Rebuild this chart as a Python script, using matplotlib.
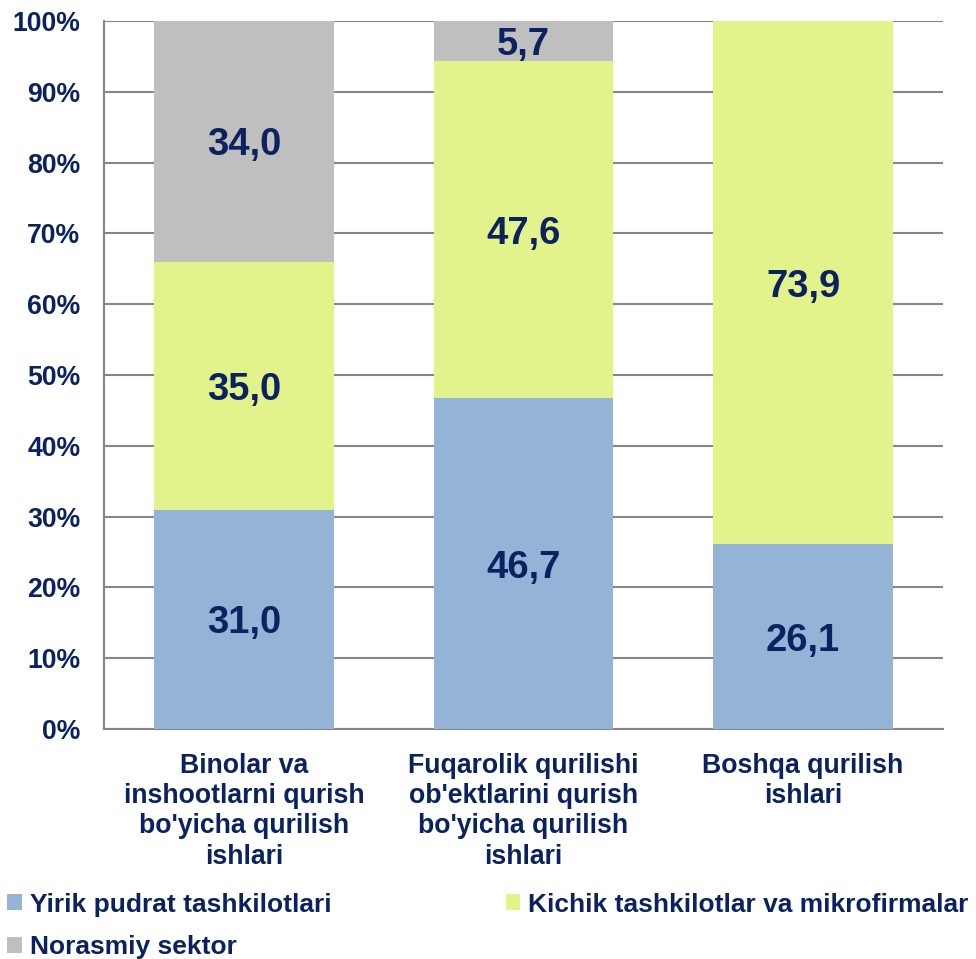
import matplotlib.pyplot as plt
import numpy as np

plt.rcParams['font.family'] = ['Liberation Sans', 'DejaVu Sans']

# 数据
categories = ["Binolar va\ninshootlarni qurish\nbo'yicha qurilish\nishlari",
              "Fuqarolik qurilishi\nob'ektlarini qurish\nbo'yicha qurilish\nishlari",
              "Boshqa qurilish\nishlari"]
series_names = ["Yirik pudrat tashkilotlari",
                "Kichik tashkilotlar va mikrofirmalar",
                "Norasmiy sektor"]
yirik = [31.0, 46.7, 26.1]
kichik = [35.0, 47.6, 73.9]
norasmiy = [34.0, 5.7, 0.0]
colors = ['#95B3D7', '#E3F38C', '#BFBFBF']
text_color = '#0B2260'

fig = plt.figure(figsize=(9.76, 9.59), dpi=100)
ax = fig.add_axes([0.1066, 0.2398, 0.8594, 0.7382])

x = np.arange(len(categories))
bottom = np.zeros(len(categories))
bars = []
for vals, name, c in zip([yirik, kichik, norasmiy], series_names, colors):
    vals = np.array(vals)
    b_ = ax.bar(x, vals, width=0.643, bottom=bottom, color=c, label=name, zorder=3)
    bars.append(b_)
    for xi, v, b in zip(x, vals, bottom):
        if v > 0:
            ax.text(xi, b + v / 2, f"{v:.1f}".replace('.', ','), ha='center', va='center_baseline',
                    fontsize=27.5, fontweight='bold', color=text_color, zorder=4)
    bottom += vals

ax.set_xlim(-0.5, 2.5)
ax.set_ylim(0, 100)
ax.set_yticks(np.arange(0, 101, 10))
ax.set_yticklabels([f"{v}%" for v in range(0, 101, 10)])
ax.set_xticks(x)
ax.set_xticklabels(categories, linespacing=1.22)
ax.tick_params(axis='both', length=0, labelsize=19.2, labelcolor=text_color)
ax.tick_params(axis='y', pad=17)
ax.tick_params(axis='x', pad=17)
for lab in ax.get_xticklabels() + ax.get_yticklabels():
    lab.set_fontweight('bold')

ax.yaxis.grid(True, color='#868686', linewidth=1.5, zorder=0)
for s in ['top', 'right']:
    ax.spines[s].set_visible(False)
for s in ['left', 'bottom']:
    ax.spines[s].set_color('#868686')
    ax.spines[s].set_linewidth(1.5)

# 图例：按行排列
order = [0, 2, 1]
leg = fig.legend([bars[i] for i in order], [series_names[i] for i in order],
                 loc='lower left', bbox_to_anchor=(-0.006, -0.014, 1.012, 0.1), mode='expand',
                 ncol=2, frameon=False, handlelength=0.55, handleheight=0.55,
                 handletextpad=0.3, labelspacing=0.7, borderaxespad=0.1,
                 prop={'size': 19, 'weight': 'bold'})
for t in leg.get_texts():
    t.set_color(text_color)

fig.savefig('out.png', dpi=100)
